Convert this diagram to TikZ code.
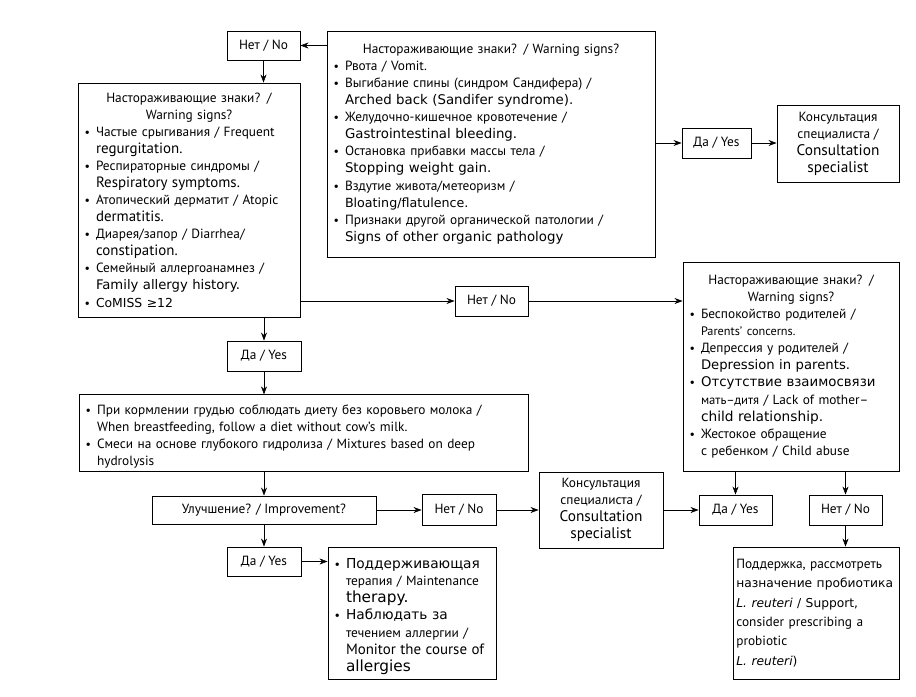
\documentclass[tikz,border=0pt]{standalone}
\usepackage{fontspec}
\setmainfont{PT Sans}
\newfontfamily\verd{DejaVu Sans}
\usepackage{xcolor}
\usetikzlibrary{arrows.meta, calc}
\setlength{\parindent}{0pt}

\newcommand{\vd}[1]{{\verd\fontsize{10}{12.8}\selectfont #1}}
\newcommand{\vdf}[2]{{\verd\fontsize{#1}{12.8}\selectfont #2}}
\newcommand{\ptf}[2]{{\fontsize{#1}{12.8}\selectfont #2}}
\newcommand{\itm}{\par\hangindent=10pt\hangafter=1\noindent\hbox to 10pt{\hskip1.5pt{\small\textbullet}\hfil}}

\tikzset{
  box/.style={draw, line width=0.7pt, inner xsep=3.5pt, inner ysep=2pt, align=center},
  listbox/.style={box, align=left},
}

\begin{document}
\begin{tikzpicture}[x=0.75pt, y=-0.75pt, >={Stealth[length=6pt, width=4.5pt]}, every node/.style={font=\fontsize{10}{12.8}\selectfont}]
  \useasboundingbox (0,0) rectangle (916,696);
  % top part
  \node[box, minimum width=54.75pt, minimum height=21.75pt] (no1) at (263.5,45.5) {Нет / No};
  \node[listbox, text width=159.5pt, minimum width=166.5pt, minimum height=175.5pt] (warnL) at (189,200) {%
    {\centering Настораживающие знаки? /\\ Warning signs?\par}
    \itm Частые срыгивания / Frequent\newline \ptf{11.2}{regurgitation.}
    \itm Респираторные синдромы /\newline \ptf{11.2}{Respiratory symptoms.}
    \itm Атопический дерматит / Atopic\newline \ptf{11.2}{dermatitis.}
    \itm Диарея/запор / Diarrhea/\newline \ptf{11.2}{constipation.}
    \itm Семейный аллергоанамнез /\newline \vdf{9.9}{Family allergy history.}
    \itm \vdf{9.3}{CoMISS ≥12}\par};
  \node[listbox, text width=239pt, minimum width=246pt, minimum height=169.5pt] (warnT) at (491,144) {%
    {\centering Настораживающие знаки? / Warning signs?\par}
    \itm Рвота / Vomit.
    \itm Выгибание спины (синдром Сандифера) /\newline \vd{Arched back (Sandifer syndrome).}
    \itm Желудочно-кишечное кровотечение /\newline \vd{Gastrointestinal bleeding.}
    \itm Остановка прибавки массы тела /\newline \vd{Stopping weight gain.}
    \itm Вздутие живота/метеоризм /\newline \vdf{9.5}{Bloating/flatulence.}
    \itm Признаки другой органической патологии /\newline \vd{Signs of other organic pathology}\par};
  \node[box, minimum width=51.75pt, minimum height=22.5pt] (yes1) at (716.5,143) {Да / Yes};
  \node[box, minimum width=91.5pt, minimum height=57.75pt] (cons1) at (838,143.5) {Консультация\\ специалиста /\\ \ptf{11.5}{Consultation}\\ \ptf{11.5}{specialist}};
  % middle part
  \node[box, minimum width=54.75pt, minimum height=22.5pt] (no2) at (491.5,301) {Нет / No};
  \node[listbox, text width=155pt, minimum width=162pt, minimum height=156.75pt] (warnR) at (791,366.5) {%
    {\centering Настораживающие знаки? /\\ Warning signs?\par}
    \itm Беспокойство родителей /\newline \ptf{9.2}{Parents' concerns.}
    \itm Депрессия у родителей /\newline \vdf{9.9}{Depression in parents.}
    \itm \vd{Отсутствие взаимосвязи}\newline \ptf{9.5}{мать–дитя} / Lack of mother–\newline \vdf{10.3}{child relationship.}
    \itm Жестокое обращение\newline с ребенком / Child abuse\par};
  \node[box, minimum width=55.5pt, minimum height=22.5pt] (yes2) at (264,356) {Да / Yes};
  \node[listbox, text width=329.75pt, minimum width=336.75pt, minimum height=57pt] (treat) at (303.5,433) {%
    \itm При кормлении грудью соблюдать диету без коровьего молока /\newline When breastfeeding, follow a diet without cow's milk.
    \itm Смеси на основе глубокого гидролиза / Mixtures based on deep\newline hydrolysis\par};
  % bottom part
  \node[box, minimum width=168pt, minimum height=21pt] (impr) at (264,510) {Улучшение? / Improvement?};
  \node[box, minimum width=55.5pt, minimum height=23.25pt] (no3) at (459,510) {Нет / No};
  \node[box, minimum width=93pt, minimum height=57pt] (cons2) at (601,510) {Консультация\\ специалиста /\\ \ptf{11.5}{Consultation}\\ \ptf{11.5}{specialist}};
  \node[box, minimum width=55.5pt, minimum height=21.75pt] (yes3) at (264,561.5) {Да / Yes};
  \node[listbox, text width=119pt, minimum width=126pt, minimum height=99pt] (maint) at (412,613) {%
    \itm \vdf{10.3}{Поддерживающая}\newline терапия / Maintenance\newline \vdf{11.5}{therapy.}
    \itm \vdf{10.3}{Наблюдать за}\newline течением аллергии /\newline \ptf{11.2}{Monitor the course of}\newline \vdf{11.5}{allergies}\par};
  \node[box, minimum width=54.75pt, minimum height=22.5pt] (yes4) at (735.5,510) {Да / Yes};
  \node[box, minimum width=54.75pt, minimum height=22.5pt] (no4) at (845.5,510) {Нет / No};
  \node[listbox, inner xsep=2.5pt, text width=119.5pt, minimum width=124.5pt, minimum height=99pt, font=\fontsize{10}{14.5}\selectfont] (final) at (816,613) {%
    Поддержка, рассмотреть\newline \vdf{9.2}{назначение пробиотика}\newline \vdf{9.2}{\textit{L. reuteri} / Support,}\newline consider prescribing a\newline probiotic\newline \vdf{9.2}{\textit{L. reuteri})}\par};
  % connectors
  \draw[->] (warnT.west |- no1) -- (no1);
  \draw[->] (no1) -- (no1 |- warnL.north);
  \draw[->] (warnT.east |- yes1) -- (yes1);
  \draw[->] (yes1) -- (cons1.west |- yes1);
  \draw[->] (warnL.east |- no2) -- (no2);
  \draw[->] (no2) -- (warnR.west |- no2);
  \draw[->] (yes2 |- warnL.south) -- (yes2);
  \draw[->] (yes2) -- (yes2 |- treat.north);
  \draw[->] (impr |- treat.south) -- (impr);
  \draw[->] (impr) -- (yes3);
  \draw[->] (yes3) -- (maint.west |- yes3);
  \draw[->] (impr) -- (no3);
  \draw[->] (no3) -- (cons2.west |- no3);
  \draw[->] (cons2.east |- yes4) -- (yes4);
  \draw[->] (yes4 |- warnR.south) -- (yes4);
  \draw[->] (no4 |- warnR.south) -- (no4);
  \draw[->] (no4) -- (no4 |- final.north);
\end{tikzpicture}
\end{document}
